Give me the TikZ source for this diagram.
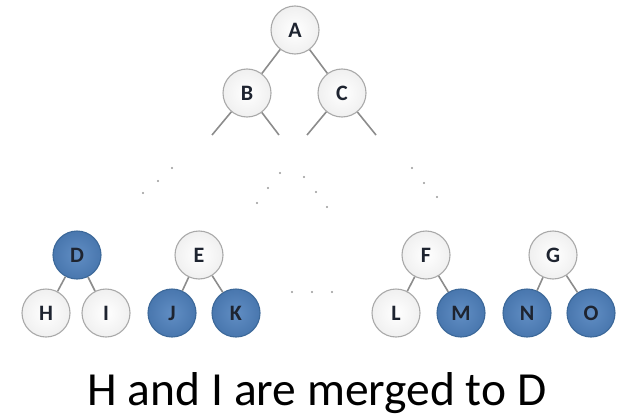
\documentclass[tikz,border=0pt]{standalone}
\usepackage{fontspec}
\setmainfont{Carlito}
\usetikzlibrary{shadings}
\definecolor{edgegray}{HTML}{8C8C8C}
\definecolor{ringgray}{HTML}{A9A9A9}
\definecolor{nodeblue}{HTML}{4F81BD}
\definecolor{nodeblueedge}{HTML}{3C6899}
\definecolor{labelink}{HTML}{1E2430}
\tikzset{
  vertex/.style={circle, minimum size=48pt, inner sep=0pt, font=\fontsize{22}{22}\selectfont\bfseries, text=labelink},
  plain/.style={vertex, draw=ringgray, line width=1.1pt, inner color=white, outer color=gray!12},
  merged/.style={vertex, draw=nodeblueedge, line width=1.1pt, inner color=nodeblue!90!white, outer color=nodeblue!92!black},
  link/.style={draw=edgegray, line width=1.6pt},
  dot/.style={fill=gray!80, draw=none, circle, inner sep=0pt, minimum size=2.4pt},
}
\begin{document}
\begin{tikzpicture}[x=1pt, y=-1pt]
\useasboundingbox (0,0) rectangle (617,417);
% top of the tree
\node[plain] (A) at (295,30) {A};
\node[plain] (B) at (247,93) {B};
\node[plain] (C) at (342,93) {C};
\coordinate (bl) at (212,135);
\coordinate (br) at (279,135);
\coordinate (cl) at (307,135);
\coordinate (cr) at (376,135);
\draw[link] (A) -- (B);
\draw[link] (A) -- (C);
\draw[link] (B) -- (bl);
\draw[link] (B) -- (br);
\draw[link] (C) -- (cl);
\draw[link] (C) -- (cr);
% dotted continuation of the levels
\foreach \i/\p in {1/{172,168}, 2/{158,181}, 3/{143,193},
                   4/{280,173}, 5/{268,188}, 6/{257,203},
                   7/{304,177}, 8/{316,192}, 9/{327,207},
                   10/{412,168}, 11/{424,183}, 12/{437,197},
                   13/{292,292}, 14/{312,292}, 15/{332,292}}
  \node[dot] (dot\i) at (\p) {};
% bottom subtrees
\node[merged] (D) at (77,255) {D};
\node[plain] (H) at (46,313) {H};
\node[plain] (I) at (106,313) {I};
\node[plain] (E) at (199,255) {E};
\node[merged] (J) at (172,313) {J};
\node[merged] (K) at (236,313) {K};
\node[plain] (F) at (426,255) {F};
\node[plain] (L) at (396,313) {L};
\node[merged] (M) at (461,313) {M};
\node[plain] (G) at (553,255) {G};
\node[merged] (N) at (527,313) {N};
\node[merged] (O) at (591,313) {O};
\foreach \p/\c in {D/H, D/I, E/J, E/K, F/L, F/M, G/N, G/O}
  \draw[link] (\p) -- (\c);
% caption
\node[anchor=base, inner sep=0pt, font=\fontsize{47.5}{47.5}\selectfont] (caption) at (317,405) {H and I are merged to D};
\end{tikzpicture}
\end{document}
